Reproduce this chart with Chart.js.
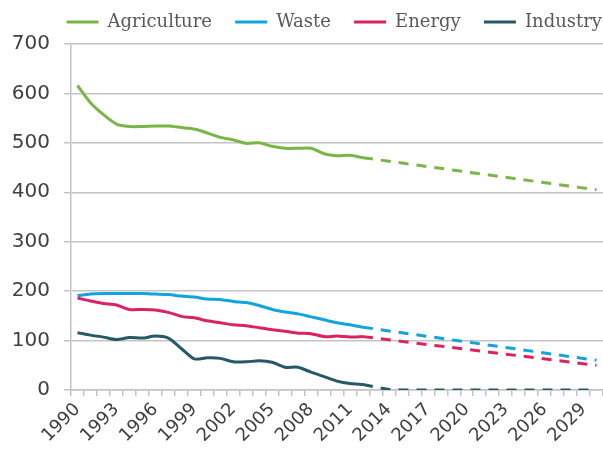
<!DOCTYPE html>
<html>
<head>
<meta charset="utf-8">
<script src="https://cdn.jsdelivr.net/npm/chart.js@4"></script>
<style>
  html, body { margin: 0; padding: 0; background: #fff; }
  #wrap { width: 603px; height: 461px; position: relative; }
</style>
</head>
<body>
<div id="wrap"><canvas id="myChart"></canvas></div>
<script>
'use strict';

// DATA

let years = [
  '1990', '1991', '1992', '1993', '1994', '1995', '1996', '1997', '1998', '1999',
  '2000', '2001', '2002', '2003', '2004', '2005', '2006', '2007', '2008', '2009',
  '2010', '2011', '2012', '2013', '2014', '2015', '2016', '2017', '2018', '2019',
  '2020', '2021', '2022', '2023', '2024', '2025', '2026', '2027', '2028', '2029', '2030'
];

// measured 1990-2012
let agriculture = [616, 581, 557, 538, 533, 533, 534, 534, 531, 528, 520, 511, 506, 499, 500, 493, 489, 489, 489, 478, 474, 475, 470];
let waste = [191, 194, 195, 195, 195, 195, 194, 193, 190, 188, 184, 183, 179, 177, 171, 163, 158, 154, 148, 142, 136, 132, 127];
let energy = [186, 180, 175, 172, 163, 163, 162, 157, 149, 146, 140, 136, 132, 130, 126, 122, 119, 115, 114, 108, 109, 107, 108];
let industry = [116, 111, 107, 102, 106, 105, 109, 105, 84, 63, 65, 64, 57, 57, 59, 56, 46, 46, 36, 27, 18, 13, 11];

// projections 2012-2030 (straight dashed lines, only the read points)
let agricultureProj = [470, null, null, null, null, null, null, null, null, null, null, null, null, null, null, null, null, null, 405];
let wasteProj = [127, null, null, null, null, null, null, null, null, null, null, null, null, null, null, null, null, null, 60];
let energyProj = [108, null, null, null, null, null, null, null, null, null, null, null, null, null, null, null, null, null, 50];
let industryProj = [11, 6, 1, 0, null, null, null, null, null, null, null, null, null, null, null, null, null, null, 0];

let yTicks = [0, 100, 200, 300, 400, 500, 600, 700];

let seriesNames = ['Agriculture', 'Waste', 'Energy', 'Industry'];
let seriesColors = ['#7ab547', '#12a4dc', '#db2263', '#265866'];

// helpers to place the short arrays on the full year axis
function padHistoric(values) {
  let out = values.slice();
  while (out.length < years.length) {
    out.push(null);
  }
  return out;
}

function padProjection(values) {
  let out = [];
  let start = years.indexOf('2012');
  for (let i = 0; i < start; i++) {
    out.push(null);
  }
  return out.concat(values);
}

let historic = [agriculture, waste, energy, industry];
let projected = [agricultureProj, wasteProj, energyProj, industryProj];

let datasets = [];
for (let i = 0; i < seriesNames.length; i++) {
  datasets.push({
    label: seriesNames[i],
    data: padHistoric(historic[i]),
    borderColor: seriesColors[i],
    backgroundColor: seriesColors[i],
    borderWidth: 3,
    pointRadius: 0,
    tension: 0.25,
    borderJoinStyle: 'round'
  });
}
for (let i = 0; i < seriesNames.length; i++) {
  datasets.push({
    label: seriesNames[i] + ' projection',
    data: padProjection(projected[i]),
    borderColor: seriesColors[i],
    backgroundColor: seriesColors[i],
    borderWidth: 3,
    borderDash: [10, 8],
    pointRadius: 0,
    tension: 0,
    spanGaps: true
  });
}

let gridGrey = '#c4c4c4';

// a little extra room under the legend, and push it to the right edge
const legendGap = {
  id: 'legendGap',
  beforeInit: function(chart) {
    let fit = chart.legend.fit;
    chart.legend.fit = function() {
      fit.bind(chart.legend)();
      this.height += 3;
    };
  },
  afterLayout: function(chart) {
    chart.legend.left += 5;
    chart.legend.right += 5;
  }
};

const config = {
  type: 'line',
  data: {
    labels: years,
    datasets: datasets
  },
  options: {
    responsive: true,
    maintainAspectRatio: false,
    animation: false,
    layout: {
      padding: { left: 0, right: 0, top: 7, bottom: 0 }
    },
    plugins: {
      tooltip: { enabled: false },
      legend: {
        position: 'top',
        align: 'end',
        labels: {
          usePointStyle: true,
          pointStyle: 'line',
          pointStyleWidth: 32,
          padding: 6,
          color: '#595959',
          font: { family: 'DejaVu Serif', size: 18 },
          filter: function(item) {
            return item.datasetIndex < 4;
          },
          generateLabels: function(chart) {
            let items = Chart.defaults.plugins.legend.labels.generateLabels(chart);
            items.forEach(function(item) {
              if (item.datasetIndex < 3) {
                item.text = item.text + '   ';
              }
            });
            return items;
          }
        }
      }
    },
    scales: {
      x: {
        offset: true,
        afterFit: function(scale) {
          scale.height = 71;
          scale.paddingLeft = 0;
          scale.paddingRight = 0;
        },
        grid: {
          offset: true,
          drawOnChartArea: false,
          drawTicks: true,
          tickLength: 6,
          color: gridGrey,
          lineWidth: 1.5
        },
        border: { color: gridGrey, width: 1.5 },
        ticks: {
          autoSkip: false,
          maxRotation: 45,
          minRotation: 45,
          padding: 3,
          color: '#404040',
          font: { family: 'DejaVu Sans', size: 18 },
          callback: function(value, index) {
            return index % 3 === 0 ? this.getLabelForValue(value) : '';
          }
        }
      },
      y: {
        min: yTicks[0],
        max: yTicks[yTicks.length - 1],
        afterFit: function(scale) {
          scale.width = 71;
        },
        grid: {
          color: gridGrey,
          lineWidth: 1.5,
          tickLength: 7
        },
        border: { color: gridGrey, width: 1.5 },
        ticks: {
          stepSize: 100,
          padding: 14,
          color: '#404040',
          font: { family: 'DejaVu Sans', size: 20 }
        }
      }
    }
  },
  plugins: [legendGap]
};

let canvas = document.getElementById('myChart').getContext('2d');
new Chart(canvas, config);
</script>
</body>
</html>
